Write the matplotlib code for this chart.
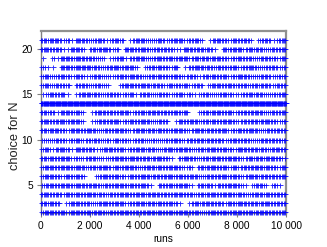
import numpy as np
import matplotlib
matplotlib.use('Agg')
import matplotlib.pyplot as plt
from matplotlib.ticker import FuncFormatter

plt.rcParams['font.family'] = ['Liberation Sans', 'DejaVu Sans']

# markers per 200-run bin (50 bins over 10 000 runs)
choices = [21, 20, 19, 18, 17, 16, 15, 14, 13, 12, 11, 10, 9, 8, 7, 6, 5, 4, 3, 2]
bin_counts = [
    "43442314432441343024432342" + "344234301443243430243134",  # 21
    "44342144304344230443442434" + "321443434104344243432434",  # 20
    "10214434434230234134432443" + "434424343443234342343324",  # 19
    "31104434443423443442024343" + "240134434243342344233423",  # 18
    "34234324313432234344324343" + "343243143434234432343233",  # 17
    "34243303432432003443443432" + "433423403443433424343243",  # 16
    "13434102443423432341343243" + "234231243234322343432334",  # 15
    "99999999999999999999999999" + "999999999999999999999999",  # 14
    "43314434201443434423434434" + "343400243443423434432434",  # 13
    "44344344201343442343443243" + "014344243434432434344323",  # 12
    "43443244344324344324434343" + "344324434344234344324343",  # 11
    "23243234233423243323423323" + "343243434342343432343433",  # 10
    "34144314434134434234434324" + "434432434434324434342443",  # 9
    "43434423234322344344343443" + "203443243443443243434432",  # 8
    "34434434424344243443244343" + "443230434434242434434324",  # 7
    "34432434300244343243443434" + "434344234344343244343434",  # 6
    "24434434434424344343441043" + "434420434143443203430320",  # 5
    "44342434344342434434434434" + "344342434434434324434343",  # 4
    "43430244342344344234434343" + "431024344342434434344343",  # 3
    "34434244343442434434344343" + "434434324434344343443434",  # 2
]

bin_width = 200
fig = plt.figure(figsize=(3.27, 2.47), dpi=100)
ax = fig.add_axes([0.1239, 0.1377, 0.7508, 0.7368])

for n, counts in zip(choices, bin_counts):
    xs = []
    for i, c in enumerate(counts):
        k = int(c)
        for j in range(k):
            xs.append(i * bin_width + (j + 0.5) * bin_width / k)
    xs = np.array(xs)
    ax.plot(xs, np.full(len(xs), n), '+', color='blue', markersize=3.6,
            markeredgewidth=0.7, alpha=0.8, clip_on=False, zorder=3)

ax.set_xlim(0, 10000)
ax.set_ylim(1.92, 21.95)
ax.set_xticks([0, 2000, 4000, 6000, 8000, 10000])
ax.set_yticks([5, 10, 15, 20])
ax.xaxis.set_major_formatter(FuncFormatter(lambda v, p: f"{int(v):,}".replace(",", " ")))
ax.tick_params(labelsize=7.3, length=3, width=0.8, color='#808080', direction='out', pad=2.5)
for side in ['left', 'bottom']:
    ax.spines[side].set_color('#808080')
    ax.spines[side].set_linewidth(1.0)
for side in ['top', 'right']:
    ax.spines[side].set_color('#909090')
    ax.spines[side].set_linewidth(1.6)

ax.set_xlabel('runs', fontsize=7.3)
ax.xaxis.set_label_coords(0.5, -0.118)
ax.set_ylabel('choice for N', fontsize=9.3, color='#222222')
ax.yaxis.set_label_coords(-0.08, 0.423)

fig.savefig('out.png', dpi=100)
